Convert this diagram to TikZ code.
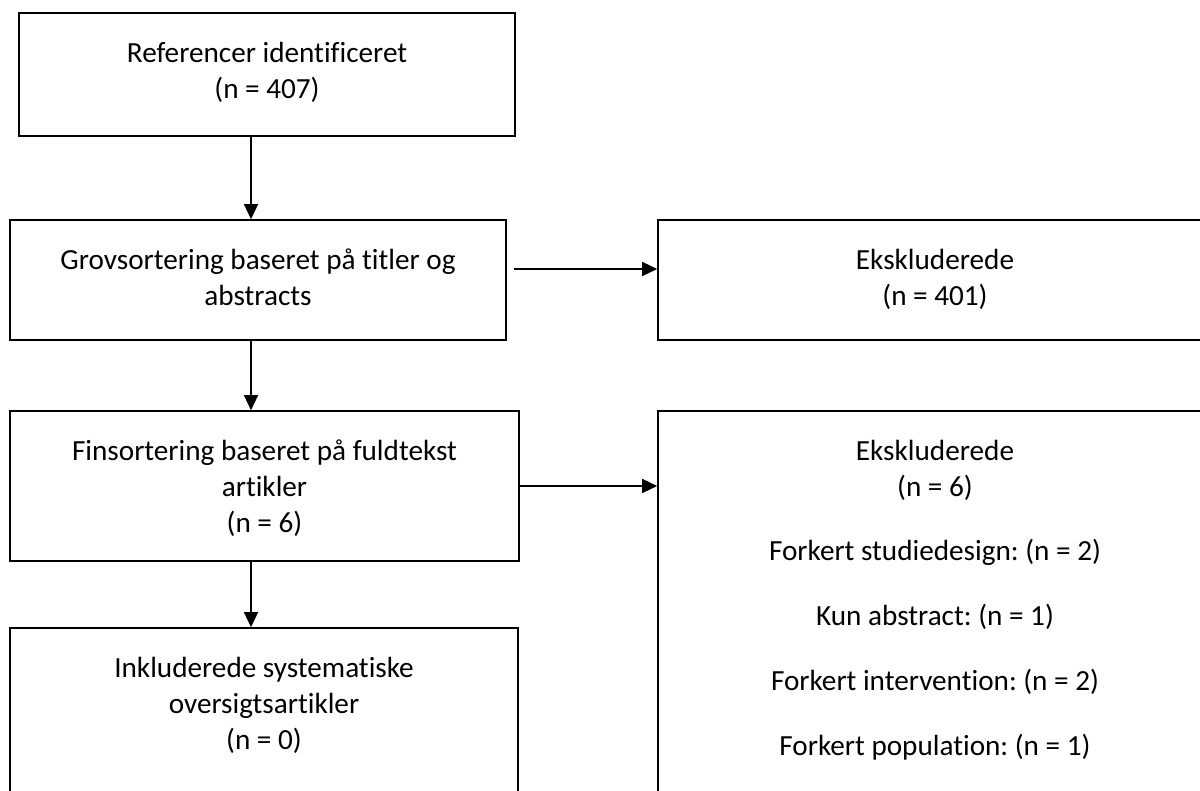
\documentclass[tikz,border=0pt]{standalone}
\usepackage{fontspec}
\setmainfont{Carlito}[Ligatures=CommonOff]
\usetikzlibrary{positioning}
\usetikzlibrary{arrows.meta}
\frenchspacing

\begin{document}
\begin{tikzpicture}[x=1pt, y=-1pt,
  box/.style={rectangle, draw=black, line width=0.8pt, inner sep=0pt},
  txt/.style={align=center, inner sep=0pt, font=\fontsize{14.6}{18}\selectfont},
  arr/.style={line width=0.7pt, -{Triangle[length=7.5pt, width=7pt]}}]

  \clip (0,0) rectangle (600,395.5);

  % left column
  \node[box, minimum width=248pt, minimum height=61.5pt] (ref) at (133.5,37.25) {};
  \node[txt, below=12.5pt of ref.north] (reftxt) {\strut Referencer identificeret\\(n = 407)};

  \node[box, minimum width=248pt, minimum height=60pt] (grov) at (129,140) {};
  \node[txt, below=12.5pt of grov.north] (grovtxt) {\strut Grovsortering baseret på titler og\\abstracts};

  \node[box, minimum width=254.5pt, minimum height=75pt] (fin) at (132.25,243) {};
  \node[txt, below=12.5pt of fin.north] (fintxt) {\strut Finsortering baseret på fuldtekst\\artikler\\(n = 6)};

  \node[box, minimum width=254pt, minimum height=91pt] (inkl) at (132,359.5) {};
  \node[txt, below=12.5pt of inkl.north] (inkltxt) {\strut Inkluderede systematiske\\oversigtsartikler\\(n = 0)};

  % excluded
  \node[box, minimum width=277pt, minimum height=60pt] (eks1) at (467.5,140) {};
  \node[txt, below=12.5pt of eks1.north] (eks1txt) {\strut Ekskluderede\\(n = 401)};

  \node[box, minimum width=277pt, minimum height=199.5pt] (eks2) at (467.5,305.25) {};
  \node[txt, below=12.5pt of eks2.north] (eks2txt) {\strut Ekskluderede\\(n = 6)\\[14pt]
    Forkert studiedesign: (n = 2)\\[14.5pt]
    Kun abstract: (n = 1)\\[14.5pt]
    Forkert intervention: (n = 2)\\[14.5pt]
    Forkert population: (n = 1)};

  % arrows
  \coordinate (col) at (125.5,0);
  \coordinate (r1) at (257,134.5);
  \draw[arr] (ref.south -| col) -- (grov.north -| col);
  \draw[arr] (grov.south -| col) -- (fin.north -| col);
  \draw[arr] (fin.south -| col) -- (inkl.north -| col);
  \draw[arr] (r1) -- (eks1.west |- r1);
  \draw[arr] (fin.east) -- (eks2.west |- fin.east);
\end{tikzpicture}
\end{document}
